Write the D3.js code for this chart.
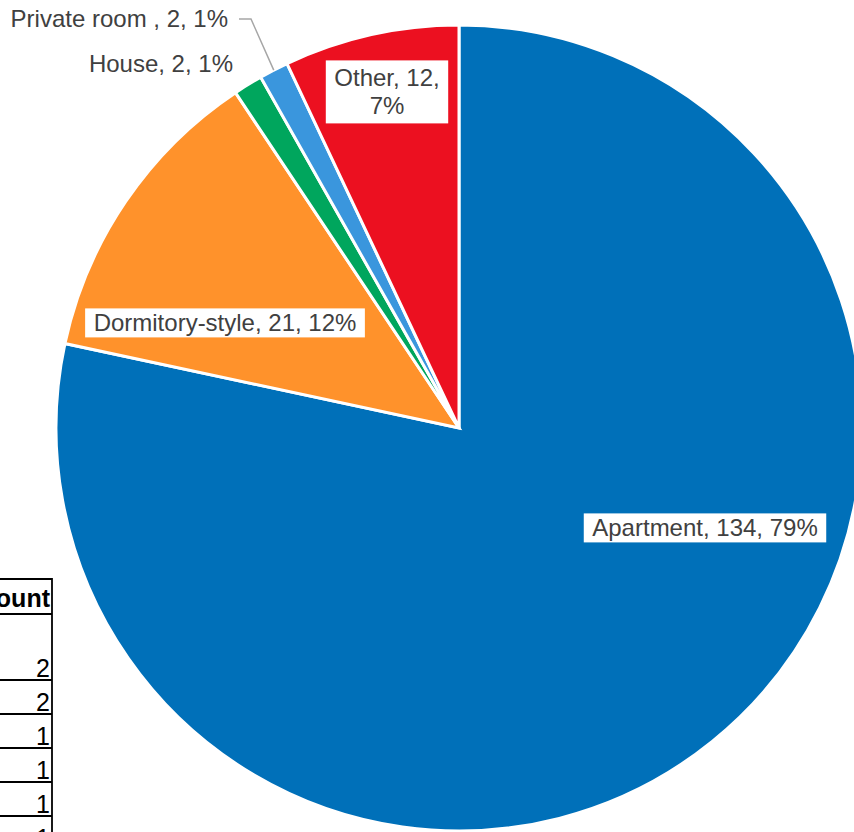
<!DOCTYPE html>
<html>
<head>
<meta charset="utf-8">
<script src="https://cdn.jsdelivr.net/npm/d3@7"></script>
<style>
  html, body { margin: 0; padding: 0; background: #fff; overflow: hidden; }
  svg { display: block; font-family: Arial, "Liberation Sans", sans-serif; }
</style>
</head>
<body>
<svg id="chart" width="854" height="832"></svg>
<script>
// Housing type, count, share as labelled in the picture.
const categories = ['Apartment', 'Dormitory-style', 'House', 'Private room ', 'Other'];
const counts = [134, 21, 2, 2, 12];
const percentLabels = ['79%', '12%', '1%', '1%', '7%'];
const colours = ['#0070B9', '#FF922B', '#00A65D', '#3A96DD', '#EC1020'];

// Partial table peeking in at the lower left.
const tableHeader = 'Count';
const tableValues = [2, 2, 1, 1, 1, 1];
const tableRowHeights = [66, 34, 34, 34, 34, 34];

const W = 854, H = 832;
const cx = 459, cy = 428, R = 403;

const svg = d3.select('#chart');

// --- table fragment -----------------------------------------------------
const tbl = svg.append('g').attr('class', 'table');
const tableRight = 52, tableTop = 579, headerH = 35;
const tableFont = 25;
let y = tableTop;
tbl.append('line').attr('x1', -5).attr('x2', tableRight).attr('y1', y).attr('y2', y);
tbl.append('text')
  .attr('x', tableRight - 2).attr('y', y + headerH - 7)
  .attr('text-anchor', 'end').attr('font-weight', 'bold').attr('font-size', tableFont)
  .text(tableHeader);
y += headerH;
tbl.append('line').attr('x1', -5).attr('x2', tableRight).attr('y1', y).attr('y2', y);
tableValues.forEach((v, i) => {
  const h = tableRowHeights[i];
  tbl.append('text')
    .attr('x', tableRight - 2).attr('y', y + h - 3)
    .attr('text-anchor', 'end').attr('font-size', tableFont)
    .text(v);
  y += h;
  tbl.append('line').attr('x1', -5).attr('x2', tableRight).attr('y1', y).attr('y2', y);
});
tbl.append('line').attr('x1', tableRight).attr('x2', tableRight).attr('y1', tableTop - 1).attr('y2', H + 5);
tbl.selectAll('line').attr('stroke', '#000').attr('stroke-width', 1.8);
tbl.selectAll('text').attr('fill', '#000');

// --- pie ----------------------------------------------------------------
const slices = d3.pie().sort(null).value(d => d)(counts);
const arc = d3.arc().innerRadius(0).outerRadius(R);

const pieG = svg.append('g').attr('transform', `translate(${cx},${cy})`);
pieG.selectAll('path')
  .data(slices)
  .enter().append('path')
    .attr('d', arc)
    .attr('fill', (d, i) => colours[i])
    .attr('stroke', '#fff')
    .attr('stroke-width', 3)
    .attr('stroke-linejoin', 'miter');

// Label centre points relative to the pie centre (Excel "best fit" placement).
// Boxed labels sit inside their slice, the two thin slices are labelled outside.
const labelPos = [
  { dx: 246, dy: 100, box: true },
  { dx: -234, dy: -105, box: true },
  { dx: -226, dy: -364, box: false, anchor: 'end' },
  { dx: -231, dy: -409, box: false, anchor: 'end', leader: true },
  { dx: -72, dy: -336, box: true, lines: 2 }
];

const fontSize = 24;
const labG = svg.append('g').attr('class', 'labels');

slices.forEach((s, i) => {
  const p = labelPos[i];
  const x = cx + p.dx, yc = cy + p.dy;
  const full = `${categories[i]}, ${counts[i]}, ${percentLabels[i]}`;
  const g = labG.append('g');
  if (p.box) {
    const rect = g.append('rect').attr('fill', '#fff');
    const lines = p.lines === 2
      ? [`${categories[i]}, ${counts[i]},`, percentLabels[i]]
      : [full];
    const lh = 28;
    const t = g.append('text')
      .attr('text-anchor', 'middle')
      .attr('font-size', fontSize)
      .attr('fill', '#404040');
    lines.forEach((ln, k) => {
      t.append('tspan')
        .attr('x', x)
        .attr('y', yc + (k - (lines.length - 1) / 2) * lh + fontSize * 0.35)
        .text(ln);
    });
    const bb = t.node().getBBox();
    const padX = 8.5, padY = p.lines === 2 ? 4 : 1;
    rect.attr('x', bb.x - padX).attr('y', bb.y - padY)
      .attr('width', bb.width + padX * 2).attr('height', bb.height + padY * 2);
  } else {
    g.append('text')
      .attr('x', x).attr('y', yc + fontSize * 0.35)
      .attr('text-anchor', p.anchor)
      .attr('font-size', fontSize)
      .attr('fill', '#404040')
      .text(full);
    if (p.leader) {
      // leader from label end to the slice's outer edge
      const a = (s.startAngle + s.endAngle) / 2;
      const ex = cx + Math.sin(a) * R, ey = cy - Math.cos(a) * R;
      labG.append('polyline')
        .attr('points', [[x + 11, yc], [x + 23, yc], [ex, ey]].map(q => q.join(',')).join(' '))
        .attr('fill', 'none')
        .attr('stroke', '#A6A6A6')
        .attr('stroke-width', 1.5);
    }
  }
});
</script>
</body>
</html>
